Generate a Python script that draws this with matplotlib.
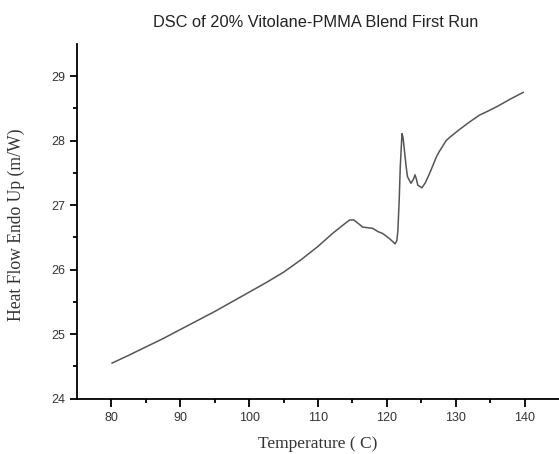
import matplotlib
matplotlib.use("Agg")
import matplotlib.pyplot as plt
import numpy as np

temperature = [80.1, 82.5, 85, 87.5, 90, 92.5, 95, 97.5, 100, 102.5, 105, 107.5, 110, 112.1,
               113.5, 114.6, 115.2, 115.8, 116.5, 117.95, 118.7, 119.4, 120.4, 121.2, 121.45, 121.6,
               121.8, 121.95, 122.2, 122.35, 122.55, 122.8, 123.0, 123.5, 123.85, 124.1, 124.3,
               124.5, 125.1, 125.6, 126.2, 127.2, 127.6, 128.6, 129.1, 130.5, 132.0, 133.5, 134.7,
               136, 138, 139.8]
heat_flow = [24.55, 24.67, 24.80, 24.93, 25.07, 25.21, 25.35, 25.50, 25.65, 25.80, 25.96, 26.15,
             26.36, 26.56, 26.68, 26.77, 26.77, 26.72, 26.66, 26.64, 26.59, 26.56, 26.48,
             26.40, 26.45, 26.6, 27.1, 27.6, 28.11, 28.05, 27.85, 27.6, 27.44, 27.34, 27.4, 27.47,
             27.4, 27.31, 27.27, 27.35, 27.49, 27.75, 27.83, 28.0, 28.05, 28.17, 28.29, 28.40,
             28.46, 28.53, 28.65, 28.75]

x_ticks = [80, 90, 100, 110, 120, 130, 140]
y_ticks = [24, 25, 26, 27, 28, 29]

fig = plt.figure(figsize=(5.59, 4.54), dpi=100)
ax = fig.add_axes([0.1377, 0.1222, 0.8623, 0.7808])
ax.plot(temperature, heat_flow, color="#555555", lw=1.1)

ax.set_xlim(75, 145)
ax.set_ylim(24, 29.5)
ax.set_xticks(x_ticks)
ax.set_yticks(y_ticks)
ax.set_xticks(np.arange(85, 145, 10), minor=True)
ax.set_yticks(np.arange(24.5, 29.5, 1), minor=True)
for s in ["top", "right"]:
    ax.spines[s].set_visible(False)
for s in ["left", "bottom"]:
    ax.spines[s].set_linewidth(1.3)
ax.tick_params(which="major", direction="out", length=5, width=1.3, labelsize=9,
               labelcolor="#333333", labelfontfamily="Liberation Sans")
ax.tick_params(which="minor", direction="out", length=3, width=1.3)
ax.tick_params(axis="x", which="major", length=6)

ax.set_title("DSC of 20% Vitolane-PMMA Blend First Run", fontsize=11.8,
             fontfamily="Liberation Sans", color="#222222", x=0.496, y=1.024)
ax.set_xlabel("Temperature ( C)", fontsize=12.5, fontfamily="Liberation Serif",
              color="#333333")
ax.set_ylabel("Heat Flow Endo Up (m/W)", fontsize=12.7, fontfamily="Liberation Serif",
              color="#333333")
ax.xaxis.set_label_coords(0.5, -0.105)
ax.yaxis.set_label_coords(-0.108, 0.49)

fig.savefig("out.png", dpi=100)
